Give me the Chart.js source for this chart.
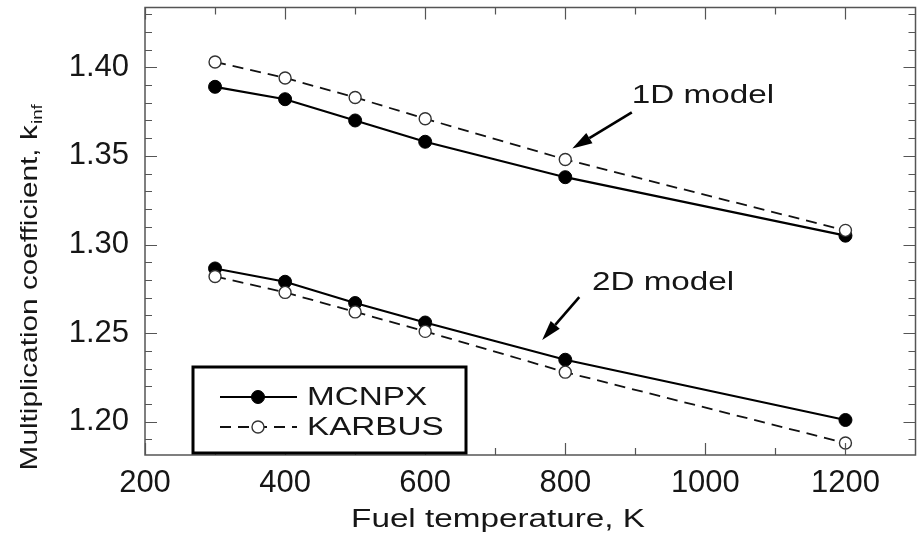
<!DOCTYPE html>
<html>
<head>
<meta charset="utf-8">
<title>k_inf vs fuel temperature</title>
<script src="https://cdn.jsdelivr.net/npm/chart.js@4.4.1/dist/chart.umd.min.js"></script>
<style>
  html, body { margin: 0; padding: 0; background: #fff; }
  #wrap { width: 923px; height: 537px; position: relative; }
</style>
</head>
<body>
<div id="wrap"><canvas id="kinfChart"></canvas></div>
<script>
// fuel temperature, K
const temperatures = [300, 400, 500, 600, 800, 1200];

// multiplication coefficient k_inf
const mcnpx1D  = [1.389, 1.382, 1.370, 1.358, 1.338, 1.305];
const karbus1D = [1.403, 1.394, 1.383, 1.371, 1.348, 1.308];
const mcnpx2D  = [1.2865, 1.279, 1.267, 1.256, 1.235, 1.201];
const karbus2D = [1.282, 1.273, 1.262, 1.251, 1.228, 1.188];

// axis ticks
const xTicks = [200, 400, 600, 800, 1000, 1200];
const xMinorTicks = [300, 500, 700, 900, 1100];
const yTicks = [1.20, 1.25, 1.30, 1.35, 1.40];
const yMinorTicks = [1.19, 1.21, 1.22, 1.23, 1.24, 1.26, 1.27, 1.28, 1.29,
                     1.31, 1.32, 1.33, 1.34, 1.36, 1.37, 1.38, 1.39, 1.41, 1.42, 1.43];

const seriesNames = ["MCNPX", "KARBUS"];
const modelNames = ["1D model", "2D model"];

const FONT = "'Liberation Sans', Arial, Helvetica, sans-serif";
const INK = "#161616";

// where the "model" notes sit, in data units
const notes = [
  { text: modelNames[0], at: [895, 1.3796], from: [895, 1.3746], to: [810, 1.3542] },
  { text: modelNames[1], at: [838, 1.2743], from: [820, 1.2703], to: [767, 1.2461] }
];

const toPoints = (ys) => temperatures.map((t, i) => ({ x: t, y: ys[i] }));

const solid = {
  borderColor: "#000", borderWidth: 2.2,
  pointRadius: 6.5, pointBackgroundColor: "#000", pointBorderColor: "#000",
  pointBorderWidth: 1, order: 1
};
const dashed = {
  borderColor: "#111", borderWidth: 1.8, borderDash: [11, 7],
  pointRadius: 6, pointBackgroundColor: "#fff", pointBorderColor: "#333",
  pointBorderWidth: 1.4, order: 0
};

// text in the original figure is stretched along its baseline
function wideText(ctx, text, x, y, size, sx, align) {
  ctx.save();
  ctx.translate(x, y);
  ctx.scale(sx, 1);
  ctx.font = size + "px " + FONT;
  ctx.fillStyle = INK;
  ctx.textAlign = align || "left";
  ctx.textBaseline = "alphabetic";
  ctx.fillText(text, 0, 0);
  ctx.restore();
}

function arrow(ctx, x1, y1, x2, y2) {
  const ang = Math.atan2(y2 - y1, x2 - x1);
  const len = 20, half = 6;
  const bx = x2 - len * Math.cos(ang), by = y2 - len * Math.sin(ang);
  ctx.save();
  ctx.strokeStyle = "#000";
  ctx.fillStyle = "#000";
  ctx.lineWidth = 2.6;
  ctx.beginPath();
  ctx.moveTo(x1, y1);
  ctx.lineTo(bx, by);
  ctx.stroke();
  ctx.beginPath();
  ctx.moveTo(x2, y2);
  ctx.lineTo(bx + half * Math.sin(ang), by - half * Math.cos(ang));
  ctx.lineTo(bx - half * Math.sin(ang), by + half * Math.cos(ang));
  ctx.closePath();
  ctx.fill();
  ctx.restore();
}

const decorations = {
  id: "decorations",
  afterDatasetsDraw(chart) {
    const { ctx, chartArea: a, scales: { x, y } } = chart;

    // frame
    ctx.save();
    ctx.strokeStyle = "#555";
    ctx.lineWidth = 1.5;
    ctx.strokeRect(a.left, a.top, a.right - a.left, a.bottom - a.top);

    // inward ticks on all four sides
    ctx.lineWidth = 1.2;
    ctx.beginPath();
    const xt = (v, l) => {
      const p = Math.round(x.getPixelForValue(v)) + 0.5;
      ctx.moveTo(p, a.bottom); ctx.lineTo(p, a.bottom - l);
      ctx.moveTo(p, a.top); ctx.lineTo(p, a.top + l);
    };
    const yt = (v, l) => {
      const p = Math.round(y.getPixelForValue(v)) + 0.5;
      ctx.moveTo(a.left, p); ctx.lineTo(a.left + l, p);
      ctx.moveTo(a.right, p); ctx.lineTo(a.right - l, p);
    };
    xTicks.forEach(v => xt(v, 12));
    xMinorTicks.forEach(v => xt(v, 7));
    yTicks.forEach(v => yt(v, 12));
    yMinorTicks.forEach(v => yt(v, 7));
    ctx.stroke();
    ctx.restore();

    // model notes with arrows
    notes.forEach(n => {
      wideText(ctx, n.text, x.getPixelForValue(n.at[0]), y.getPixelForValue(n.at[1]), 25, 1.33);
      arrow(ctx, x.getPixelForValue(n.from[0]), y.getPixelForValue(n.from[1]),
                 x.getPixelForValue(n.to[0]), y.getPixelForValue(n.to[1]));
    });

    // legend box
    const bx = a.left + 48, by = a.bottom - 88, bw = 273, bh = 86;
    ctx.save();
    ctx.fillStyle = "#fff";
    ctx.fillRect(bx, by, bw, bh);
    ctx.strokeStyle = "#000";
    ctx.lineWidth = 3;
    ctx.strokeRect(bx, by, bw, bh);
    const rows = [
      { name: seriesNames[0], ds: solid, cy: by + 30 },
      { name: seriesNames[1], ds: dashed, cy: by + 60 }
    ];
    rows.forEach(r => {
      const x0 = bx + 27, x1 = bx + 104, xm = bx + 65;
      ctx.beginPath();
      ctx.strokeStyle = r.ds.borderColor;
      ctx.lineWidth = r.ds.borderWidth;
      ctx.setLineDash(r.ds.borderDash || []);
      ctx.moveTo(x0, r.cy); ctx.lineTo(x1, r.cy);
      ctx.stroke();
      ctx.setLineDash([]);
      ctx.beginPath();
      ctx.arc(xm, r.cy, r.ds.pointRadius, 0, Math.PI * 2);
      ctx.fillStyle = r.ds.pointBackgroundColor;
      ctx.fill();
      ctx.lineWidth = r.ds.pointBorderWidth;
      ctx.strokeStyle = r.ds.pointBorderColor;
      ctx.stroke();
      wideText(ctx, r.name, bx + 114, r.cy + 8, 25, 1.33);
    });
    ctx.restore();

    // axis titles
    wideText(ctx, "Fuel temperature, K", 498, 527, 25, 1.33, "center");

    ctx.save();
    ctx.translate(37, 288);
    ctx.rotate(-Math.PI / 2);
    ctx.scale(1.24, 1);
    ctx.fillStyle = INK;
    ctx.textBaseline = "alphabetic";
    const main = "Multiplication coefficient, k", sub = "inf";
    ctx.font = "24px " + FONT;
    const w1 = ctx.measureText(main).width;
    ctx.font = "15px " + FONT;
    const w2 = ctx.measureText(sub).width;
    const start = -(w1 + w2) / 2;
    ctx.font = "24px " + FONT;
    ctx.fillText(main, start, 0);
    ctx.font = "15px " + FONT;
    ctx.fillText(sub, start + w1 + 1, 5);
    ctx.restore();
  }
};

new Chart(document.getElementById("kinfChart"), {
  type: "line",
  data: {
    datasets: [
      { label: "MCNPX 1D", data: toPoints(mcnpx1D), ...solid },
      { label: "KARBUS 1D", data: toPoints(karbus1D), ...dashed },
      { label: "MCNPX 2D", data: toPoints(mcnpx2D), ...solid },
      { label: "KARBUS 2D", data: toPoints(karbus2D), ...dashed }
    ]
  },
  options: {
    responsive: true,
    maintainAspectRatio: false,
    animation: false,
    layout: { padding: { left: 0, top: 7, right: 2, bottom: 0 } },
    elements: { line: { tension: 0, fill: false } },
    plugins: { legend: { display: false }, tooltip: { enabled: false } },
    scales: {
      x: {
        type: "linear",
        min: 200,
        max: 1300,
        grid: { display: false, drawTicks: false },
        border: { display: false },
        afterBuildTicks: (s) => { s.ticks = xTicks.map(v => ({ value: v })); },
        afterFit: (s) => { s.height = 82; s.paddingLeft = 0; s.paddingRight = 0; },
        ticks: {
          padding: 10,
          maxRotation: 0,
          color: INK,
          font: { family: FONT, size: 31 },
          callback: (v) => String(v)
        }
      },
      y: {
        min: 1.18125,
        max: 1.43375,
        grid: { display: false, drawTicks: false },
        border: { display: false },
        afterBuildTicks: (s) => { s.ticks = yTicks.map(v => ({ value: v })); },
        afterFit: (s) => { s.width = 145; s.paddingTop = 0; s.paddingBottom = 0; },
        ticks: {
          padding: 16,
          color: INK,
          font: { family: FONT, size: 31 },
          callback: (v) => v.toFixed(2)
        }
      }
    }
  },
  plugins: [decorations]
});
</script>
</body>
</html>
